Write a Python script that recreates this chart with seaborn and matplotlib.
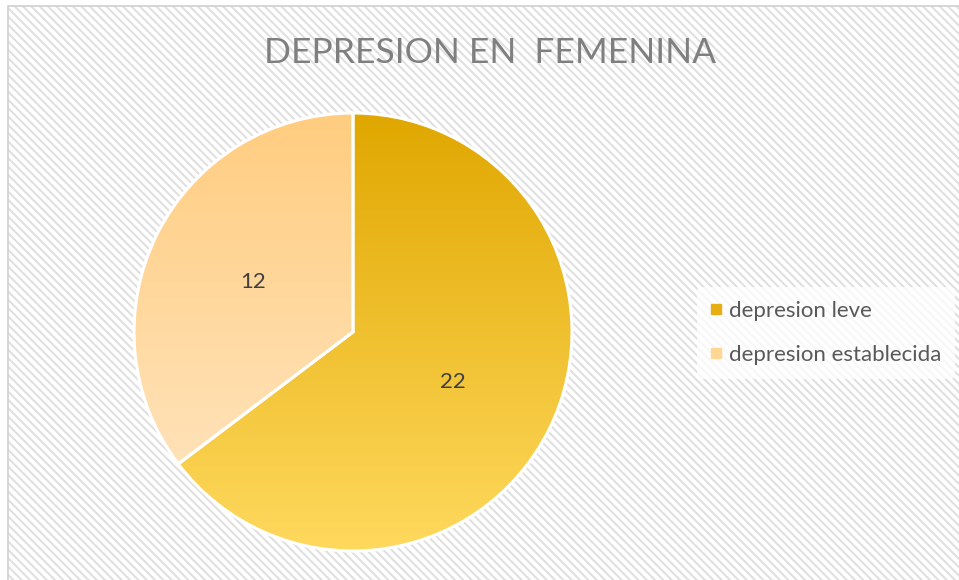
import numpy as np
import matplotlib
matplotlib.use("Agg")
import matplotlib.pyplot as plt
import seaborn as sns
from matplotlib.patches import Rectangle
from matplotlib.lines import Line2D

# Data
categories = ["depresion leve", "depresion establecida"]
values = [22, 12]
title = "DEPRESION EN  FEMENINA"

# gradient colours per slice (top -> bottom of the pie)
grad_top = ["#E0A700", "#FFCD80"]
grad_bottom = ["#FFD95E", "#FFE7C6"]
legend_colors = ["#E6AE12", "#FFD793"]

sns.set_theme(style="white")
plt.rcParams["font.family"] = ["Lato", "DejaVu Sans"]
plt.rcParams["hatch.linewidth"] = 1.5

fig = plt.figure(figsize=(9.59, 5.80), dpi=100)
W, H = 959, 580

# hatched chart area background
bg = Rectangle((8 / W, 0), 1, 1 - 6 / H, transform=fig.transFigure,
               facecolor="white", edgecolor="#E0E0E0", hatch="\\\\\\\\",
               lw=0, zorder=-2)
fig.add_artist(bg)
frame = Rectangle((8 / W, -0.01), 1, 1 - 6 / H + 0.01, transform=fig.transFigure,
                  facecolor="none", edgecolor="#D0D0D0", lw=1.2, zorder=-1)
fig.add_artist(frame)

# pie axes: centre (353, 332), radius 219 px
cx, cy, r = 353, 332, 219
ax = fig.add_axes([(cx - r) / W, (H - cy - r) / H, 2 * r / W, 2 * r / H])
ax.patch.set_visible(False)

wedges, _, autotexts = ax.pie(
    values, startangle=90, counterclock=False, radius=1,
    autopct=lambda p: f"{round(p * sum(values) / 100):d}",
    pctdistance=0.51,
    wedgeprops=dict(edgecolor="white", linewidth=2.2),
    textprops=dict(fontsize=16, color="#404040"),
)

grad = np.linspace(0, 1, 256).reshape(-1, 1)
for w, c0, c1 in zip(wedges, grad_top, grad_bottom):
    cmap = sns.blend_palette([c0, c1], n_colors=256, as_cmap=True)
    im = ax.imshow(grad, cmap=cmap, extent=(-1, 1, -1, 1), origin="upper",
                   aspect="auto", zorder=1)
    im.set_clip_path(w)
    w.set_facecolor("none")
    w.set_zorder(2)
    w.set_clip_on(False)
for t in autotexts:
    t.set_zorder(3)

ax.set_xlim(-1, 1)
ax.set_ylim(-1, 1)
ax.set_aspect("equal")
ax.axis("off")

# title
fig.text(490 / W, 1 - 53 / H, title, ha="center", va="center",
         fontsize=25.5, color="#7F7F7F")

# legend
handles = [Line2D([], [], marker="s", linestyle="", markersize=7,
                  markerfacecolor=c, markeredgecolor=c) for c in legend_colors]
leg = fig.legend(handles, categories, loc="center left",
                 bbox_to_anchor=(697 / W, 1 - 333 / H),
                 fontsize=16, frameon=True, labelspacing=1.1,
                 handlelength=0.5, handletextpad=0.35, borderpad=0.6,
                 borderaxespad=0, labelcolor="#595959")
leg.get_frame().set_facecolor("white")
leg.get_frame().set_alpha(0.75)
leg.get_frame().set_edgecolor("none")

fig.savefig("out.png", dpi=100)
